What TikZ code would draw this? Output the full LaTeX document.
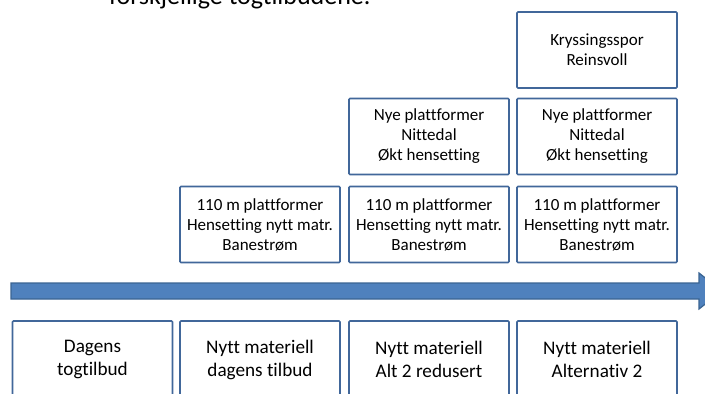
\documentclass[tikz,border=0pt]{standalone}
\usepackage{fontspec}
\setmainfont{Carlito}[Ligatures=CommonOff]
\definecolor{boxline}{HTML}{41679A}
\definecolor{arrowfill}{HTML}{4F81BD}
\definecolor{arrowline}{HTML}{3A6492}
\tikzset{
  x=1pt, y=-1pt,
  stagebox/.style={draw=boxline, line width=1.6pt, fill=white, rounded corners=1pt,
    minimum width=160pt, minimum height=76pt, align=center, inner sep=0pt,
    font=\fontsize{17}{20}\selectfont},
  basebox/.style={stagebox, minimum height=77pt, font=\fontsize{19.2}{23}\selectfont},
}
\begin{document}
\begin{tikzpicture}
\useasboundingbox (0,0) rectangle (705,394);
\clip (0,0) rectangle (705,394);

% caption line continuing from the page above
\node[anchor=base west, inner sep=0pt, font=\fontsize{26}{30}\selectfont] (cap) at (109,4) {forskjellige togtilbudene.};

% timeline arrow
\filldraw[fill=arrowfill, draw=arrowline, line width=1.2pt]
  (11,283) -- (699,283) -- (699,273) -- (722,291) -- (699,309) -- (699,299) -- (11,299) -- cycle;

% columns: 12-173, 179-341, 348-510, 516-678
\node[stagebox] (k4) at (597,50) {Kryssingsspor\\Reinsvoll};

\node[stagebox] (n3) at (429,136.5) {Nye plattformer\\Nittedal\\Økt hensetting};
\node[stagebox] (n4) at (597,136.5) {Nye plattformer\\Nittedal\\Økt hensetting};

\node[stagebox] (p2) at (260,224.5) {110 m plattformer\\Hensetting nytt matr.\\Banestrøm};
\node[stagebox] (p3) at (429,224.5) {110 m plattformer\\Hensetting nytt matr.\\Banestrøm};
\node[stagebox] (p4) at (597,224.5) {110 m plattformer\\Hensetting nytt matr.\\Banestrøm};

\node[basebox] (b1) at (92.5,359.5) {Dagens\\togtilbud};
\node[basebox] (b2) at (260,359.5) {Nytt materiell\\dagens tilbud};
\node[basebox] (b3) at (429,359.5) {Nytt materiell\\Alt 2 redusert};
\node[basebox] (b4) at (597,359.5) {Nytt materiell\\Alternativ 2};
\end{tikzpicture}
\end{document}
